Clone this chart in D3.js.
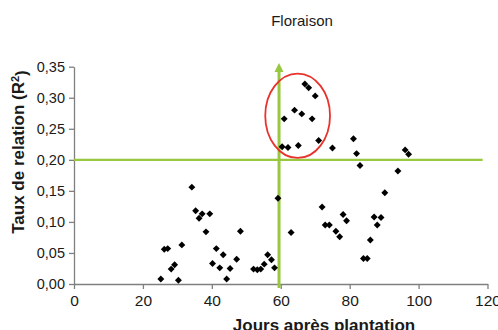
<!DOCTYPE html>
<html><head><meta charset="utf-8">
<script src="https://cdn.jsdelivr.net/npm/d3@7"></script>
<style>body{margin:0;background:#fff}svg{display:block}</style>
</head><body>
<svg id="c" width="498" height="330"></svg>
<script>
// Data (jours après plantation, R²)
const days = [25.2,26.2,27.2,28.2,29.2,30.3,31.3,34.2,35.3,36.3,37.2,38.3,39.4,40.2,41.3,42.3,43.3,44.3,45.3,47.2,48.3,52.1,53.2,54.2,55.2,56.2,57.3,58.2,59.2,60.4,61.0,62.1,63.0,64.0,65.1,66.1,67.0,68.1,69.1,70.0,71.0,72.0,72.9,74.1,75.0,76.0,77.1,78.1,79.1,81.1,82.0,83.0,84.0,85.1,86.0,87.1,88.0,89.1,90.2,94.0,96.1,97.1];
const r2 = [0.008,0.056,0.057,0.024,0.031,0.006,0.063,0.156,0.118,0.106,0.113,0.084,0.113,0.033,0.057,0.026,0.047,0.008,0.025,0.040,0.085,0.024,0.023,0.024,0.032,0.047,0.039,0.026,0.138,0.221,0.266,0.220,0.083,0.280,0.223,0.274,0.322,0.316,0.266,0.303,0.231,0.124,0.095,0.095,0.219,0.085,0.076,0.112,0.102,0.234,0.210,0.191,0.041,0.041,0.071,0.108,0.095,0.107,0.147,0.182,0.216,0.209];
const xTicks = [0,20,40,60,80,100,120];
const yTicks = [0,0.05,0.10,0.15,0.20,0.25,0.30,0.35];
const threshold = 0.20;        // horizontal reference line
const floraisonDay = 59.5;     // vertical reference line
const ellipse = {cx:64.9, cy:0.271, rx:9.4, ry:0.068};
const title = "Floraison";
const xTitle = "Jours après plantation";
const yTitle = "Taux de relation (R";

const svg = d3.select("#c");
const font = "'Liberation Sans', Arial, sans-serif";
const x = d3.scaleLinear().domain([0,120]).range([74,487.5]);
const y = d3.scaleLinear().domain([0,0.35]).range([284,66.7]);
const fmt = v => d3.format(".2f")(v).replace(".", ",");
const green = "#97c83f";

// axes
const gx = svg.append("g").attr("transform","translate(0,284)")
  .call(d3.axisBottom(x).tickValues(xTicks).tickSize(5).tickPadding(6).tickSizeOuter(0));
const gy = svg.append("g").attr("transform","translate(74,0)")
  .call(d3.axisLeft(y).tickValues(yTicks).tickFormat(fmt).tickSize(5).tickPadding(4).tickSizeOuter(0));
[gx,gy].forEach(g=>{
  g.selectAll("path,line").attr("stroke","#7f7f7f").attr("stroke-width",1.3);
  g.selectAll("text").attr("fill","#1a1a1a").style("font-family",font);
});
gx.selectAll("text").style("font-size","15.5px");
gy.selectAll("text").style("font-size","14.5px");

// reference lines
svg.append("line").attr("x1",x(0)).attr("x2",x(118.6)).attr("y1",y(threshold)).attr("y2",y(threshold))
  .attr("stroke",green).attr("stroke-width",2.2);
svg.append("line").attr("x1",x(floraisonDay)).attr("x2",x(floraisonDay)).attr("y1",288).attr("y2",70)
  .attr("stroke",green).attr("stroke-width",3);
const ax = x(floraisonDay);
svg.append("path").attr("d",`M${ax},63 L${ax-4.5},72 L${ax+4.5},72 Z`).attr("fill",green);

// points
svg.append("g").selectAll("path").data(days.map((d,i)=>[d,r2[i]])).join("path")
  .attr("d", d3.symbol().type(d3.symbolSquare).size(24))
  .attr("transform", d=>`translate(${x(d[0])},${y(d[1])}) rotate(45)`)
  .attr("fill","#000");

// ellipse
svg.append("ellipse").attr("cx",x(ellipse.cx)).attr("cy",y(ellipse.cy))
  .attr("rx",x(ellipse.rx)-x(0)).attr("ry",y(0)-y(ellipse.ry))
  .attr("fill","none").attr("stroke","#e8332c").attr("stroke-width",1.8);

// titles
svg.append("text").attr("x",302).attr("y",26).attr("text-anchor","middle")
  .style("font-family",font).style("font-size","15px").attr("fill","#1a1a1a").text(title);
svg.append("text").attr("x",324).attr("y",330.5).attr("text-anchor","middle")
  .style("font-family",font).style("font-size","17px").style("font-weight","bold").attr("fill","#1a1a1a").text(xTitle);
const yt = svg.append("text").attr("transform","translate(24,152) rotate(-90)").attr("text-anchor","middle")
  .style("font-family",font).style("font-size","17px").style("font-weight","bold").attr("fill","#1a1a1a");
yt.append("tspan").text(yTitle);
yt.append("tspan").attr("dy","-0.45em").style("font-size","11px").text("2");
yt.append("tspan").attr("dy","0.45em").text(")");
</script>
</body></html>
